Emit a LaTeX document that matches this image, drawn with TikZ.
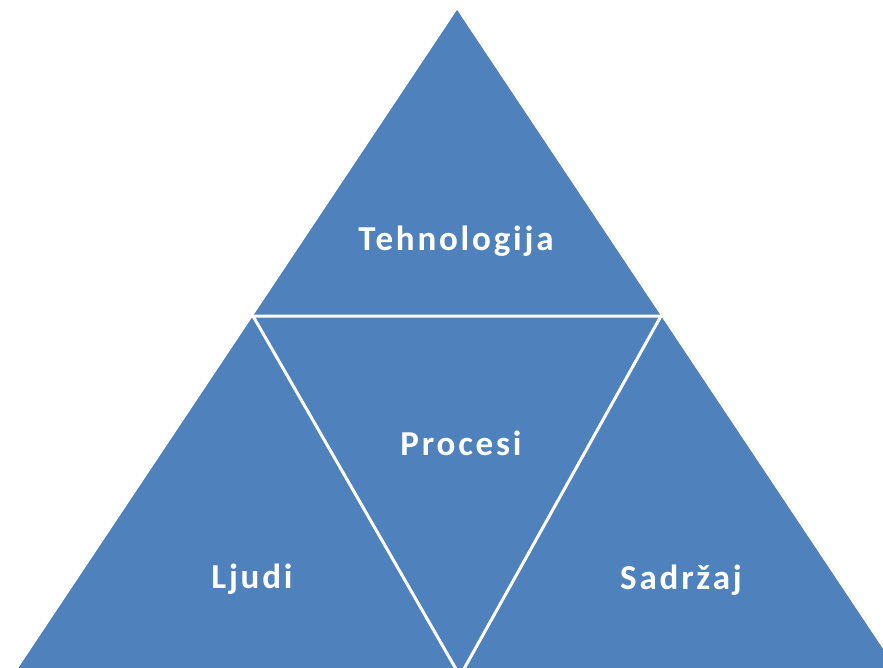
\documentclass[tikz,border=0pt]{standalone}
\usepackage{fontspec}
\setmainfont{Carlito}
\definecolor{pyrblue}{HTML}{4F81BD}
\tikzset{
  lbl/.style={text=white, font=\fontsize{35}{41}\selectfont\bfseries\addfontfeatures{LetterSpace=8}, anchor=base, inner sep=0pt},
  sep/.style={draw=white, line width=3pt, line cap=round}
}
\begin{document}
\begin{tikzpicture}[x=1pt,y=-1pt]
\useasboundingbox (0,0) rectangle (883,668);
\clip (0,0) rectangle (883,668);
\coordinate (apex) at (457,10);
\coordinate (bl) at (-3,700);
\coordinate (br) at (917,700);
\coordinate (ml) at (253,316);
\coordinate (mr) at (661,316);
\coordinate (bot) at (460,676);
\fill[pyrblue] (apex) -- (bl) -- (br) -- cycle;
\draw[sep] (ml) -- (mr) -- (bot) -- cycle;
\node[lbl] (tech) at (456,251) {Tehnologija};
\node[lbl] (proc) at (461,455) {Procesi};
\node[lbl] (ljudi) at (252,588) {Ljudi};
\node[lbl] (sadr) at (681,589) {Sadržaj};
\end{tikzpicture}
\end{document}
